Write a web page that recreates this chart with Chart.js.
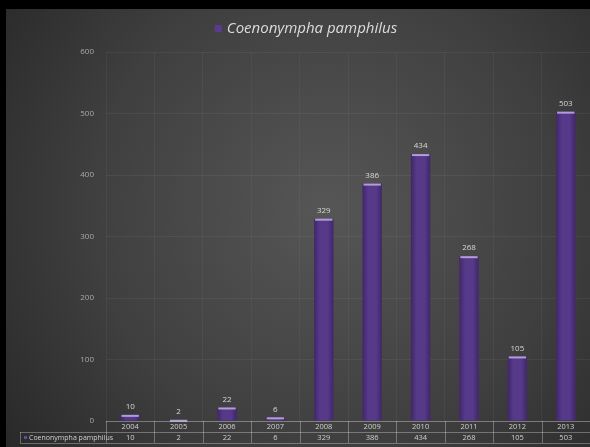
<!DOCTYPE html>
<html>
<head>
<meta charset="utf-8">
<script src="https://cdn.jsdelivr.net/npm/chart.js@4.4.1/dist/chart.umd.min.js"></script>
<style>
    html, body { margin: 0; padding: 0; background: #000; }
    body { width: 590px; height: 447px; position: relative; overflow: hidden; }
    #chart0 { position: absolute; left: 6px; top: 9px; }
</style>
</head>
<body>
<canvas id="chart0" width="584" height="438"></canvas>
<script>
// data
const years = ['2004', '2005', '2006', '2007', '2008', '2009', '2010', '2011', '2012', '2013'];
const counts = [10, 2, 22, 6, 329, 386, 434, 268, 105, 503];
const seriesName = 'Coenonympha pamphilus';
const yTicks = [0, 100, 200, 300, 400, 500, 600];

const FONT = '"Open Sans", "Liberation Sans", sans-serif';

// latar belakang gelap dengan gradasi
const bgPlugin = {
    id: 'bg',
    beforeDraw(chart) {
        const c = chart.ctx;
        const w = chart.width, h = chart.height;
        const g = c.createRadialGradient(320, 200, 10, 320, 200, 420);
        g.addColorStop(0, '#555555');
        g.addColorStop(0.55, '#3f3f3f');
        g.addColorStop(1, '#262626');
        c.save();
        c.fillStyle = g;
        c.fillRect(0, 0, w, h);
        c.restore();
    }
};

// judul, label nilai dan tabel data
const extrasPlugin = {
    id: 'extras',
    afterDatasetsDraw(chart) {
        const c = chart.ctx;
        const xs = chart.scales.x;
        const area = chart.chartArea;
        const meta = chart.getDatasetMeta(0);
        c.save();

        // bayangan tepi dan highlight di atas batang
        meta.data.forEach((bar) => {
            const half = bar.width / 2;
            const g = c.createLinearGradient(bar.x - half, 0, bar.x + half, 0);
            g.addColorStop(0, 'rgba(20,5,40,0.35)');
            g.addColorStop(0.3, 'rgba(20,5,40,0)');
            g.addColorStop(0.7, 'rgba(20,5,40,0)');
            g.addColorStop(1, 'rgba(20,5,40,0.35)');
            c.fillStyle = g;
            c.fillRect(bar.x - half, bar.y, bar.width, bar.base - bar.y);
            c.fillStyle = 'rgba(195,175,230,0.85)';
            c.fillRect(bar.x - half + 1, bar.y, bar.width - 2, 2);
        });

        // label nilai
        c.fillStyle = '#d8d8d8';
        c.font = '8px ' + FONT;
        c.textAlign = 'center';
        c.textBaseline = 'bottom';
        meta.data.forEach((bar, i) => {
            c.fillText(String(counts[i]), bar.x, bar.y - 4);
        });

        // judul
        c.font = 'italic 15px ' + FONT;
        c.textAlign = 'left';
        c.textBaseline = 'middle';
        const tw = c.measureText(seriesName).width;
        const tx = 306 - tw / 2;
        c.fillStyle = '#5b3b8f';
        c.fillRect(tx - 12, 16, 7, 7);
        c.fillStyle = '#dcdcdc';
        c.fillText(seriesName, tx, 20);

        // tabel data
        const left = area.left;
        const right = area.right;
        const r0 = area.bottom;
        const r1 = r0 + 11;
        const r2 = r1 + 11;
        const legendLeft = 14;
        c.strokeStyle = 'rgba(255,255,255,0.3)';
        c.lineWidth = 1;
        c.beginPath();
        c.moveTo(left, r0 + 0.5); c.lineTo(right, r0 + 0.5);
        c.moveTo(legendLeft, r1 + 0.5); c.lineTo(right, r1 + 0.5);
        c.moveTo(legendLeft, r2 + 0.5); c.lineTo(right, r2 + 0.5);
        c.moveTo(legendLeft + 0.5, r1); c.lineTo(legendLeft + 0.5, r2);
        for (let i = 0; i <= years.length; i++) {
            const bx = Math.round(left + (right - left) * i / years.length) + 0.5;
            c.moveTo(bx, r0); c.lineTo(bx, r2);
        }
        c.stroke();

        c.font = '7.5px ' + FONT;
        c.fillStyle = '#d0d0d0';
        c.textAlign = 'center';
        c.textBaseline = 'middle';
        years.forEach((yr, i) => {
            const cx = xs.getPixelForValue(i);
            c.fillText(yr, cx, (r0 + r1) / 2 + 0.5);
            c.fillText(String(counts[i]), cx, (r1 + r2) / 2 + 0.5);
        });
        c.fillStyle = '#6a48a0';
        c.fillRect(legendLeft + 4, (r1 + r2) / 2 - 1.5, 3, 3);
        c.fillStyle = '#d0d0d0';
        c.textAlign = 'left';
        c.font = '7px ' + FONT;
        c.fillText(seriesName, legendLeft + 9, (r1 + r2) / 2 + 0.5);

        c.restore();
    }
};

const ctx = document.getElementById('chart0').getContext('2d');
const chart0 = new Chart(ctx, {
    type: 'bar',
    data: {
        labels: years,
        datasets: [{
            label: seriesName,
            data: counts,
            backgroundColor: '#57398a',
            borderWidth: 0,
            barPercentage: 0.4,
            categoryPercentage: 1
        }]
    },
    options: {
        responsive: false,
        animation: false,
        events: [],
        layout: { padding: { top: 43, bottom: 26, left: 0, right: 0 } },
        plugins: {
            legend: { display: false },
            title: { display: false },
            tooltip: { enabled: false }
        },
        scales: {
            x: {
                grid: { offset: true, color: 'rgba(255,255,255,0.045)', drawTicks: false },
                border: { display: false },
                ticks: { display: false },
                afterFit: (s) => { s.height = 0; }
            },
            y: {
                min: 0,
                max: 600,
                afterBuildTicks: (s) => { s.ticks = yTicks.map(v => ({ value: v })); },
                ticks: { color: '#a8a8a8', font: { size: 8, family: FONT }, padding: 12 },
                grid: { color: 'rgba(255,255,255,0.055)', drawTicks: false },
                border: { display: false },
                afterFit: (s) => { s.width = 100; }
            }
        }
    },
    plugins: [bgPlugin, extrasPlugin]
});
</script>
</body>
</html>
